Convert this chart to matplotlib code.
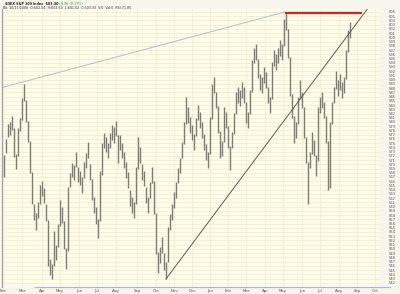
import matplotlib
matplotlib.use("Agg")
import matplotlib.pyplot as plt
from matplotlib.lines import Line2D

highs = [572.3, 576.0, 579.5, 580.0, 581.3, 578.5, 572.4, 578.6, 580.9, 585.6,
         588.9, 585.3, 580.3, 575.5, 568.2, 560.6, 558.4, 561.0, 565.2, 566.0,
         564.5, 560.7, 556.8, 547.5, 546.5, 554.3, 551.0, 555.8, 561.5, 559.9,
         556.5, 550.3, 564.6, 568.0, 570.4, 569.9, 572.8, 569.3, 568.5, 566.9,
         570.5, 572.7, 575.2, 570.0, 566.5, 562.3, 560.0, 557.0, 568.3, 575.0,
         577.5, 576.4, 575.1, 577.4, 579.3, 578.7, 580.2, 577.0, 577.0, 575.1,
         572.8, 570.5, 568.1, 564.0, 562.3, 561.0, 569.3, 576.4, 574.0, 570.0,
         568.5, 564.6, 562.2, 565.8, 569.3, 566.0, 558.5, 549.2, 550.5, 552.8,
         549.0, 547.0, 555.2, 558.2, 560.5, 563.4, 565.7, 569.2, 571.6, 575.2,
         580.0, 585.8, 583.5, 581.1, 579.4, 577.1, 581.0, 584.1, 582.3, 579.9,
         577.1, 574.7, 572.9, 581.1, 588.9, 590.6, 587.0, 583.8, 577.8, 575.6,
         583.5, 582.3, 579.0, 574.3, 577.6, 582.2, 587.0, 588.2, 587.5, 589.4,
         588.2, 584.8, 582.3, 587.5, 594.6, 597.6, 598.4, 595.0, 591.3, 590.6,
         593.0, 591.8, 588.2, 585.9, 594.2, 597.0, 596.0, 597.6, 599.3, 598.4,
         604.4, 605.8, 602.0, 595.4, 586.5, 581.3, 579.9, 585.9, 589.9, 587.0,
         583.6, 576.5, 570.6, 572.9, 577.6, 575.7, 572.3, 583.5, 585.9, 587.0,
         584.7, 581.3, 575.4, 580.0, 584.7, 588.2, 592.1, 589.9, 591.3, 589.4,
         590.6, 597.0, 601.7, 603.6]
lows = [567.0, 572.6, 576.4, 577.0, 578.2, 571.8, 569.0, 572.0, 577.8, 580.5,
        585.0, 580.0, 575.2, 567.9, 560.6, 556.9, 554.5, 557.3, 560.5, 562.6,
        560.8, 556.5, 546.0, 543.8, 542.8, 546.0, 547.4, 550.5, 555.5, 556.1,
        550.0, 545.3, 549.5, 564.6, 567.0, 566.4, 569.3, 565.8, 565.0, 563.3,
        566.8, 569.2, 571.6, 566.3, 561.5, 558.5, 556.0, 552.5, 556.5, 567.5,
        573.8, 572.8, 571.6, 573.9, 575.8, 575.0, 576.8, 570.2, 573.4, 571.5,
        569.1, 566.8, 564.4, 560.2, 558.4, 557.2, 560.5, 569.0, 570.3, 566.3,
        564.9, 560.9, 558.4, 562.0, 565.6, 558.2, 548.8, 544.2, 546.6, 549.0,
        545.0, 543.0, 546.8, 554.4, 556.8, 559.7, 562.0, 565.6, 568.0, 571.5,
        574.8, 579.5, 579.8, 577.4, 575.8, 573.4, 576.8, 580.5, 578.6, 576.3,
        573.4, 571.0, 569.2, 572.5, 580.8, 586.9, 583.4, 577.4, 571.5, 572.0,
        575.2, 578.6, 573.9, 568.7, 573.9, 577.2, 581.8, 584.5, 583.8, 585.7,
        584.5, 579.8, 578.6, 582.0, 587.2, 594.0, 594.7, 590.4, 587.6, 586.9,
        589.3, 588.1, 584.5, 582.1, 585.5, 593.3, 592.3, 594.0, 595.7, 594.7,
        598.0, 601.7, 595.1, 586.1, 581.0, 575.1, 576.2, 579.5, 585.5, 583.3,
        576.2, 570.3, 560.5, 569.1, 572.5, 572.0, 567.3, 570.8, 582.1, 583.3,
        581.0, 575.1, 564.0, 564.5, 579.6, 584.5, 587.8, 586.2, 587.6, 585.7,
        586.9, 590.2, 596.6, 599.8]

months = ["Feb", "Mar", "Apr", "May", "Jun", "Jul", "Aug", "Sep", "Oct", "Nov", "Dec",
          "Jan", "Feb", "Mar", "Apr", "May", "Jun", "Jul", "Aug", "Sep", "Oct"]
month_pos = [-0.5, 9, 19, 28, 37.5, 46.5, 56, 66.5, 76, 85, 94,
             103, 112, 121, 130.5, 139.5, 149, 158, 167.5, 176.5, 185.5]

upper_line = ([-0.5, 140.5], [588.2, 606.0])
trend_line = ([81, 182], [542.9, 606.9])
resist_line = ([140.5, 179], [605.8, 605.8])

price_ticks = list(range(542, 607))

fig = plt.figure(figsize=(4.0, 2.94), dpi=100)
fig.patch.set_facecolor("#F7F5EC")
ax = fig.add_axes([0.005, 0.0238, 0.945, 0.9456])
ax.set_facecolor("#FFFDE9")

xs = list(range(len(highs)))
ax.vlines(xs, lows, highs, color="#7c7c74", linewidth=1.0)

ax.plot(*upper_line, color="#b8bccb", linewidth=0.7)
ax.plot(*trend_line, color="#5a5a55", linewidth=0.7)
ax.plot(*resist_line, color="#e0201c", linewidth=1.6, solid_capstyle="butt")

ax.set_xlim(-1, 188)
ax.set_ylim(541.0, 606.7)
ax.set_xticks(month_pos)
ax.set_xticklabels(months)
ax.set_yticks(price_ticks)
ax.set_yticklabels([str(v) for v in price_ticks])
ax.yaxis.tick_right()
ax.tick_params(axis="y", labelsize=2.6, length=0, pad=6, colors="#555555")
ax.tick_params(axis="x", labelsize=2.8, length=0, pad=1.5, colors="#555555")
ax.grid(True, color="#EEEBD2", linewidth=0.5)
ax.set_axisbelow(True)
for s in ["top", "right", "bottom"]:
    ax.spines[s].set_visible(False)
ax.spines["left"].set_color("#a0a0a0")
ax.spines["left"].set_linewidth(0.8)

fig.add_artist(Line2D([0.088, 0.975], [0.0238, 0.0238], color="#aab8e0", linewidth=0.9,
                      transform=fig.transFigure))

fig.text(0.012, 0.986, "$OEX S&P 100 Index  603.30", fontsize=2.4, color="#222222",
         va="center", weight="bold")
fig.text(0.145, 0.986, "+0.96 (0.17%)", fontsize=2.4, color="#2aa02a", va="center")
fig.text(0.008, 0.972, "Bk: 10/13/2006  O:602.54  H:603.60  L:601.62  C:603.30  V:0  Vol:0  RSI:71.85",
         fontsize=2.3, color="#333333", va="center")

fig.savefig("out.png", dpi=100, facecolor=fig.get_facecolor())
